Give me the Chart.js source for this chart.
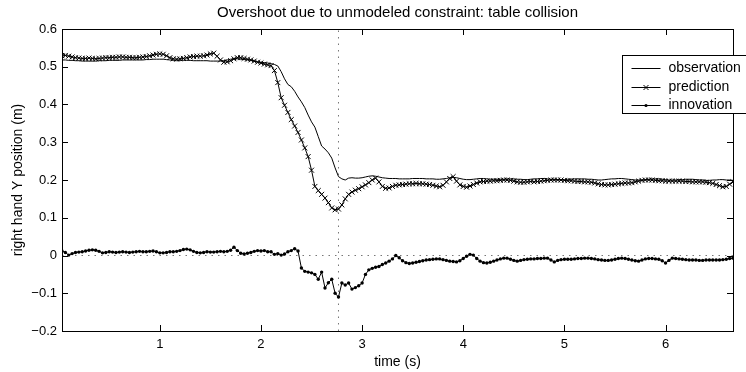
<!DOCTYPE html>
<html>
<head>
<meta charset="utf-8">
<script src="https://cdn.jsdelivr.net/npm/chart.js@4"></script>
<style>
  html, body { margin: 0; padding: 0; background: #fff; }
  #wrap { width: 746px; height: 372px; }
</style>
</head>
<body>
<div id="wrap"><canvas id="chart" width="746" height="372"></canvas></div>
<script>
// sampled at 30 Hz, 200 samples
const times = Array.from({ length: 200 }, (_, i) => (i + 1) / 30);

const observation = [
  0.518,0.518,0.517,0.517,0.516,0.516,0.515,0.515,0.515,0.515,
  0.515,0.516,0.516,0.516,0.517,0.517,0.517,0.517,0.518,0.518,
  0.518,0.518,0.518,0.518,0.518,0.519,0.519,0.520,0.520,0.520,
  0.520,0.519,0.518,0.517,0.517,0.517,0.517,0.517,0.517,0.516,
  0.516,0.516,0.516,0.516,0.515,0.515,0.515,0.515,0.516,0.518,
  0.520,0.521,0.521,0.520,0.519,0.518,0.517,0.515,0.513,0.512,
  0.511,0.510,0.508,0.506,0.502,0.487,0.468,0.453,0.447,0.435,
  0.420,0.407,0.392,0.372,0.354,0.340,0.315,0.290,0.282,0.272,
  0.258,0.232,0.209,0.203,0.200,0.205,0.206,0.205,0.205,0.206,
  0.208,0.210,0.211,0.210,0.208,0.206,0.205,0.204,0.204,0.204,
  0.203,0.203,0.203,0.203,0.204,0.204,0.204,0.204,0.203,0.203,
  0.203,0.202,0.202,0.203,0.204,0.206,0.207,0.206,0.204,0.202,
  0.201,0.201,0.202,0.203,0.204,0.204,0.203,0.202,0.202,0.202,
  0.202,0.202,0.203,0.203,0.203,0.202,0.202,0.201,0.201,0.202,
  0.203,0.203,0.204,0.204,0.203,0.202,0.202,0.201,0.201,0.201,
  0.202,0.202,0.203,0.203,0.203,0.203,0.202,0.202,0.201,0.200,
  0.200,0.201,0.202,0.203,0.203,0.204,0.204,0.203,0.202,0.201,
  0.200,0.200,0.200,0.201,0.202,0.203,0.203,0.203,0.202,0.201,
  0.200,0.200,0.200,0.201,0.201,0.202,0.202,0.202,0.201,0.200,
  0.200,0.199,0.199,0.200,0.200,0.201,0.201,0.200,0.200,0.199
];

const prediction = [
  0.529,0.530,0.528,0.526,0.524,0.523,0.522,0.522,0.523,0.522,
  0.521,0.522,0.523,0.524,0.524,0.525,0.525,0.526,0.526,0.525,
  0.525,0.524,0.524,0.525,0.526,0.527,0.529,0.531,0.533,0.534,
  0.533,0.529,0.524,0.521,0.520,0.521,0.522,0.524,0.526,0.527,
  0.528,0.528,0.529,0.531,0.534,0.536,0.528,0.518,0.512,0.513,
  0.516,0.521,0.524,0.524,0.522,0.520,0.518,0.515,0.512,0.510,
  0.507,0.505,0.503,0.490,0.458,0.418,0.398,0.379,0.360,0.343,
  0.326,0.306,0.285,0.262,0.226,0.183,0.172,0.162,0.152,0.140,
  0.126,0.121,0.123,0.134,0.150,0.162,0.168,0.173,0.177,0.182,
  0.187,0.193,0.200,0.205,0.195,0.183,0.178,0.179,0.183,0.186,
  0.187,0.188,0.189,0.190,0.190,0.191,0.190,0.190,0.189,0.188,
  0.186,0.184,0.182,0.186,0.195,0.204,0.209,0.197,0.187,0.183,
  0.181,0.184,0.188,0.192,0.195,0.196,0.197,0.197,0.198,0.198,
  0.199,0.200,0.200,0.199,0.197,0.195,0.194,0.194,0.195,0.196,
  0.195,0.196,0.197,0.198,0.199,0.200,0.200,0.200,0.200,0.199,
  0.198,0.198,0.197,0.196,0.196,0.195,0.195,0.194,0.192,0.190,
  0.188,0.187,0.187,0.188,0.189,0.190,0.191,0.192,0.192,0.193,
  0.195,0.197,0.199,0.200,0.200,0.200,0.199,0.198,0.198,0.197,
  0.197,0.197,0.197,0.197,0.197,0.196,0.196,0.195,0.195,0.195,
  0.195,0.194,0.193,0.191,0.188,0.185,0.182,0.183,0.189,0.195
];

const innovation = [
  0.012,0.008,0.001,0.005,0.008,0.009,0.010,0.012,0.014,0.015,
  0.014,0.011,0.007,0.008,0.010,0.009,0.008,0.009,0.010,0.009,
  0.008,0.009,0.010,0.011,0.010,0.010,0.011,0.012,0.010,0.007,
  0.007,0.008,0.010,0.010,0.011,0.013,0.016,0.017,0.015,0.011,
  0.008,0.007,0.008,0.010,0.009,0.009,0.010,0.011,0.010,0.011,
  0.014,0.022,0.013,0.006,0.004,0.006,0.008,0.011,0.013,0.012,
  0.013,0.010,0.010,0.003,0.005,0.001,0.004,0.010,0.013,0.018,
  0.012,-0.033,-0.042,-0.044,-0.046,-0.050,-0.063,-0.044,-0.086,-0.072,
  -0.063,-0.100,-0.110,-0.073,-0.078,-0.073,-0.089,-0.085,-0.080,-0.073,
  -0.050,-0.038,-0.034,-0.031,-0.029,-0.024,-0.020,-0.015,-0.009,0.000,
  -0.006,-0.014,-0.019,-0.021,-0.020,-0.018,-0.016,-0.014,-0.012,-0.011,
  -0.010,-0.009,-0.009,-0.011,-0.013,-0.015,-0.016,-0.017,-0.014,-0.008,
  -0.002,0.003,0.001,-0.008,-0.015,-0.019,-0.020,-0.018,-0.015,-0.012,
  -0.009,-0.007,-0.007,-0.010,-0.013,-0.015,-0.013,-0.011,-0.010,-0.009,
  -0.009,-0.008,-0.008,-0.007,-0.007,-0.012,-0.017,-0.013,-0.011,-0.010,
  -0.010,-0.010,-0.009,-0.008,-0.008,-0.007,-0.007,-0.008,-0.009,-0.011,
  -0.012,-0.013,-0.013,-0.012,-0.010,-0.008,-0.007,-0.008,-0.010,-0.012,
  -0.014,-0.015,-0.012,-0.009,-0.008,-0.008,-0.009,-0.010,-0.014,-0.020,
  -0.013,-0.007,-0.008,-0.009,-0.010,-0.011,-0.012,-0.012,-0.012,-0.013,
  -0.013,-0.012,-0.012,-0.012,-0.012,-0.012,-0.011,-0.010,-0.008,-0.007
];

const collisionTime = 2.7667;
const xTicks = [1, 2, 3, 4, 5, 6];
const yTicks = [-0.2, -0.1, 0, 0.1, 0.2, 0.3, 0.4, 0.5, 0.6];
const yTickLabels = ['\u22120.2', '\u22120.1', '0', '0.1', '0.2', '0.3', '0.4', '0.5', '0.6'];
const seriesNames = ['observation', 'prediction', 'innovation'];

const FONT = "'Liberation Sans', Arial, Helvetica, sans-serif";

// matlab-ish frame: box, inward ticks on all sides, title, legend
const framePlugin = {
  id: 'frame',
  afterDraw(chart) {
    const ctx = chart.ctx;
    const a = chart.chartArea;
    const xs = chart.scales.x, ys = chart.scales.y;
    const tl = 6;
    ctx.save();
    ctx.strokeStyle = '#000';
    ctx.lineWidth = 1;
    ctx.strokeRect(Math.round(a.left) + 0.5, Math.round(a.top) + 0.5,
                   Math.round(a.right - a.left), Math.round(a.bottom - a.top));
    ctx.beginPath();
    for (const v of xTicks) {
      const px = Math.round(xs.getPixelForValue(v)) + 0.5;
      ctx.moveTo(px, a.bottom); ctx.lineTo(px, a.bottom - tl);
      ctx.moveTo(px, a.top); ctx.lineTo(px, a.top + tl);
    }
    for (const v of yTicks) {
      const py = Math.round(ys.getPixelForValue(v)) + 0.5;
      ctx.moveTo(a.left, py); ctx.lineTo(a.left + tl, py);
      ctx.moveTo(a.right, py); ctx.lineTo(a.right - tl, py);
    }
    ctx.stroke();

    // title
    ctx.fillStyle = '#000';
    ctx.font = '15px ' + FONT;
    ctx.textAlign = 'center';
    ctx.textBaseline = 'middle';
    ctx.fillText('Overshoot due to unmodeled constraint: table collision', (a.left + a.right) / 2, 13);

    // legend box
    const lx = Math.round(a.right - 111) + 0.5, ly = Math.round(a.top + 26) + 0.5;
    const lw = 140, lh = 58;
    ctx.fillStyle = '#fff';
    ctx.fillRect(lx, ly, lw, lh);
    ctx.strokeRect(lx, ly, lw, lh);
    ctx.font = '14px ' + FONT;
    ctx.textAlign = 'left';
    seriesNames.forEach((name, k) => {
      const y = Math.round(ly + 12.5 + k * 18.5) + 0.5;
      ctx.beginPath();
      ctx.moveTo(lx + 9, y); ctx.lineTo(lx + 38, y);
      ctx.stroke();
      const cx = lx + 23.5;
      if (k === 1) {
        ctx.beginPath();
        ctx.moveTo(cx - 2.5, y - 2.5); ctx.lineTo(cx + 2.5, y + 2.5);
        ctx.moveTo(cx - 2.5, y + 2.5); ctx.lineTo(cx + 2.5, y - 2.5);
        ctx.stroke();
      } else if (k === 2) {
        ctx.beginPath();
        ctx.arc(cx, y, 1.6, 0, Math.PI * 2);
        ctx.fillStyle = '#000';
        ctx.fill();
      }
      ctx.fillStyle = '#000';
      ctx.fillText(name, lx + 46, y);
    });
    ctx.restore();
  }
};

new Chart(document.getElementById('chart'), {
  type: 'line',
  data: {
    labels: times,
    datasets: [
      {
        label: 'zero',
        data: [{ x: times[0], y: 0 }, { x: times[times.length - 1], y: 0 }],
        borderColor: '#777', borderWidth: 1, borderDash: [1.5, 5],
        pointRadius: 0, order: 5
      },
      {
        label: 'collision',
        data: [{ x: collisionTime, y: yTicks[0] }, { x: collisionTime, y: yTicks[yTicks.length - 1] }],
        borderColor: '#777', borderWidth: 1, borderDash: [1.5, 5],
        pointRadius: 0, order: 5
      },
      {
        label: seriesNames[0],
        data: observation,
        borderColor: '#000', borderWidth: 1,
        pointRadius: 0, order: 3
      },
      {
        label: seriesNames[1],
        data: prediction,
        borderColor: '#000', borderWidth: 1,
        pointStyle: 'crossRot', pointRadius: 3.5,
        pointBorderColor: '#000', pointBorderWidth: 1, order: 2
      },
      {
        label: seriesNames[2],
        data: innovation,
        borderColor: '#000', borderWidth: 1,
        pointStyle: 'circle', pointRadius: 1.7,
        pointBackgroundColor: '#000', pointBorderWidth: 0, order: 1
      }
    ]
  },
  options: {
    responsive: false,
    animation: false,
    devicePixelRatio: 1,
    layout: { padding: { top: 29, right: 13, left: 0, bottom: 0 } },
    elements: { line: { tension: 0 } },
    plugins: { legend: { display: false }, tooltip: { enabled: false }, title: { display: false } },
    scales: {
      x: {
        type: 'linear',
        min: times[0],
        max: times[times.length - 1],
        afterBuildTicks: s => { s.ticks = xTicks.map(v => ({ value: v })); },
        afterFit: s => { s.height = 41; },
        grid: { display: false, drawTicks: false },
        border: { display: false },
        ticks: { color: '#000', font: { family: FONT, size: 13 }, padding: 6, maxRotation: 0,
                 callback: v => String(v) },
        title: { display: true, text: 'time (s)', color: '#000',
                 font: { family: FONT, size: 14 }, padding: { top: 0, bottom: 1 } }
      },
      y: {
        min: yTicks[0],
        max: yTicks[yTicks.length - 1],
        afterBuildTicks: s => { s.ticks = yTicks.map(v => ({ value: v })); },
        afterFit: s => { s.width = 62; },
        grid: { display: false, drawTicks: false },
        border: { display: false },
        ticks: { color: '#000', font: { family: FONT, size: 13 }, padding: 5,
                 callback: v => yTickLabels[yTicks.findIndex(t => Math.abs(t - v) < 1e-9)] },
        title: { display: true, text: 'right hand Y position (m)', color: '#000',
                 font: { family: FONT, size: 14 }, padding: { top: 10, bottom: 0 } }
      }
    }
  },
  plugins: [framePlugin]
});
</script>
</body>
</html>
